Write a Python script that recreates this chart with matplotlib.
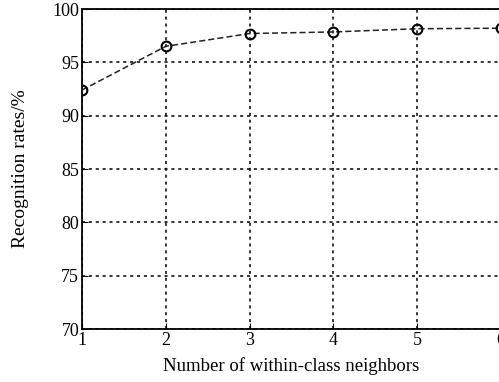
import matplotlib.pyplot as plt
import numpy as np

plt.rcParams['font.family'] = ['Liberation Serif', 'DejaVu Serif']

neighbors = [1, 2, 3, 4, 5, 6]
rates = [92.4, 96.5, 97.7, 97.85, 98.15, 98.2]
yticks = [70, 75, 80, 85, 90, 95, 100]

fig = plt.figure(figsize=(4.99, 3.82), dpi=100)
ax = fig.add_axes([82/499, 1-329/382, 419/499, 320/382])

ax.plot(neighbors, rates, color='#222222', linestyle='--', linewidth=1.1,
        dashes=(4, 2), marker='o', markersize=7, markerfacecolor='none',
        markeredgecolor='black', markeredgewidth=1.5, zorder=3)

ax.set_xlim(1, 6)
ax.set_ylim(70, 100)
ax.set_xticks(neighbors)
ax.set_yticks(yticks)
ax.grid(True, color='black', linestyle=(0, (2, 2.5)), linewidth=1.1)

for s in ax.spines.values():
    s.set_linewidth(1.3)
ax.tick_params(direction='in', length=4, labelsize=13, pad=2)

ax.set_xlabel('Number of within-class neighbors', fontsize=13.5, labelpad=6)
ax.set_ylabel('Recognition rates/%', fontsize=14, labelpad=17)

fig.savefig('out.png', dpi=100)
